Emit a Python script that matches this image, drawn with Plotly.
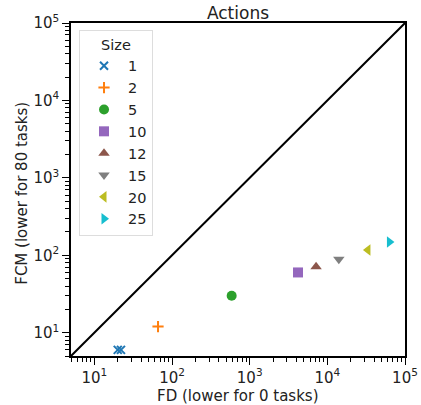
import plotly.graph_objects as go

sizes = ["1", "2", "5", "10", "12", "15", "20", "25"]
fd_vals = [[20, 22], [66], [586], [4190], [7160], [14060], [33300], [63000]]
fcm_vals = [[6, 6], [12], [30], [60], [71], [89], [117], [148]]
colors = ["#1f77b4", "#ff7f0e", "#2ca02c", "#9467bd", "#8c564b", "#7f7f7f", "#bcbd22", "#17becf"]
symbols = ["x-thin", "cross-thin", "circle", "square", "triangle-up", "triangle-down", "triangle-left", "triangle-right"]
diag = [5, 1e5]
tick_vals = [10, 100, 1000, 10000, 100000]
tick_text = ["10<sup>1</sup>", "10<sup>2</sup>", "10<sup>3</sup>", "10<sup>4</sup>", "10<sup>5</sup>"]
minor_vals = [m * 10 ** e for e in range(0, 5) for m in range(2, 10)]

fig = go.Figure()
fig.add_trace(go.Scatter(x=diag, y=diag, mode="lines", line=dict(color="black", width=2), showlegend=False))
for s, xs, ys, c, sym in zip(sizes, fd_vals, fcm_vals, colors, symbols):
    thin = sym.endswith("thin")
    fig.add_trace(go.Scatter(
        x=xs, y=ys, mode="markers", name=s,
        marker=dict(symbol=sym, size=8 if thin else 10, color=c,
                    line=dict(color=c, width=2 if thin else 0)),
    ))

axis_common = dict(
    type="log", range=[0.69897, 5], showgrid=False, zeroline=False, automargin=False,
    showline=True, linecolor="black", linewidth=1.5, mirror=True,
    ticks="outside", ticklen=7, tickwidth=1.3, tickcolor="black",
    tickmode="array", tickvals=tick_vals, ticktext=tick_text, ticklabeloverflow="allow",
    tickfont=dict(size=15, color="#222"),
    minor=dict(tickmode="array", tickvals=minor_vals, ticks="outside", ticklen=4,
               tickwidth=1, tickcolor="black", showgrid=False),
)
fig.update_layout(
    width=421, height=405,
    margin=dict(l=71, r=16, t=23, b=49, autoexpand=False),
    paper_bgcolor="white", plot_bgcolor="white",
    font=dict(family="DejaVu Sans", size=15, color="#222"),
    title=dict(text="Actions", x=0.5, xanchor="center", xref="paper",
               yref="container", y=0.967, yanchor="middle", font=dict(size=17)),
    xaxis=axis_common,
    yaxis=axis_common,
    legend=dict(x=0.024, y=0.979, xanchor="left", yanchor="top",
                title=dict(text="Size", font=dict(size=14.5), side="top center"),
                bordercolor="#ddd", borderwidth=1, bgcolor="rgba(255,255,255,0.8)",
                font=dict(size=14.5), itemwidth=38, tracegroupgap=0),
    annotations=[
        dict(text="FD (lower for 0 tasks)", xref="paper", yref="paper", x=0.5, y=-0.12,
             xanchor="center", yanchor="middle", showarrow=False, font=dict(size=15)),
        dict(text="FCM (lower for 80 tasks)", xref="paper", yref="paper", x=-0.147, y=0.49,
             xanchor="center", yanchor="middle", textangle=-90, showarrow=False, font=dict(size=15)),
    ],
)
fig.write_html("out.html", config={"displayModeBar": False},
               post_script="document.body.style.margin='0';document.body.style.padding='0';")
